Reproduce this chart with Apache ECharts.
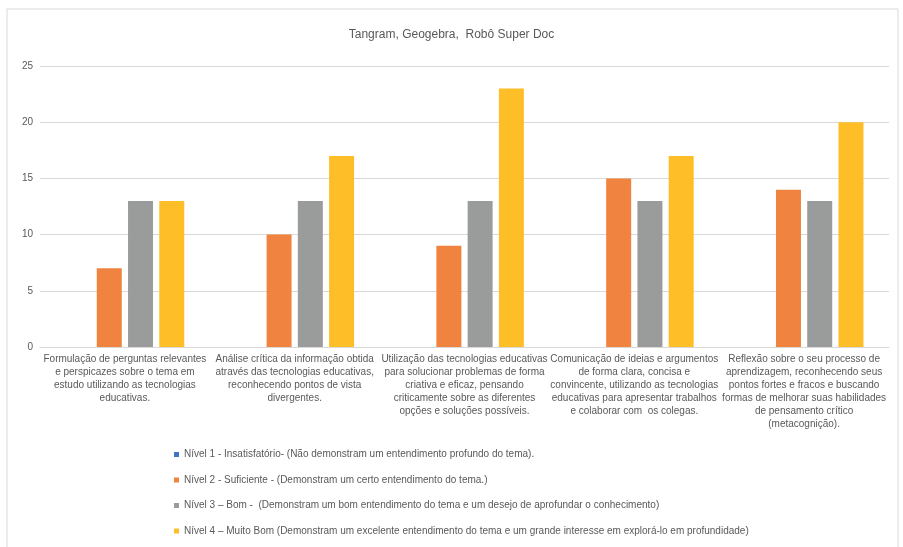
<!DOCTYPE html>
<html>
<head>
<meta charset="utf-8">
<script src="https://cdn.jsdelivr.net/npm/echarts@6/dist/echarts.min.js"></script>
<style>
  html, body { margin: 0; padding: 0; background: #fff; }
  #chart { width: 903px; height: 547px; }
</style>
</head>
<body>
<div id="chart"></div>
<script>
// categorias (eixo X), com as quebras de linha do original
const categories = [
  'Formulação de perguntas relevantes\ne perspicazes sobre o tema em\nestudo utilizando as tecnologias\neducativas.',
  'Análise crítica da informação obtida\natravés das tecnologias educativas,\nreconhecendo pontos de vista\ndivergentes.',
  'Utilização das tecnologias educativas\npara solucionar problemas de forma\ncriativa e eficaz, pensando\ncriticamente sobre as diferentes\nopções e soluções possíveis.',
  'Comunicação de ideias e argumentos\nde forma clara, concisa e\nconvincente, utilizando as tecnologias\neducativas para apresentar trabalhos\ne colaborar com  os colegas.',
  'Reflexão sobre o seu processo de\naprendizagem, reconhecendo seus\npontos fortes e fracos e buscando\nformas de melhorar suas habilidades\nde pensamento crítico\n(metacognição).'
];

const seriesNames = [
  'Nível 1 - Insatisfatório- (Não demonstram um entendimento profundo do tema).',
  'Nível 2 - Suficiente - (Demonstram um certo entendimento do tema.)',
  'Nível 3 – Bom -  (Demonstram um bom entendimento do tema e um desejo de aprofundar o conhecimento)',
  'Nível 4 – Muito Bom (Demonstram um excelente entendimento do tema e um grande interesse em explorá-lo em profundidade)'
];

const nivel1 = [0, 0, 0, 0, 0];
const nivel2 = [7, 10, 9, 15, 14];
const nivel3 = [13, 13, 13, 13, 13];
const nivel4 = [13, 17, 23, 17, 20];

const colors = ['#4472C4', '#F0833F', '#9A9C9C', '#FEBE28'];
const yTicks = { min: 0, max: 25, interval: 5 };

const chart = echarts.init(document.getElementById('chart'));
const textColor = '#595959';

const option = {
  animation: false,
  color: colors,
  graphic: [
    {
      type: 'rect',
      shape: { x: 7, y: 9, width: 891, height: 560 },
      style: { fill: 'none', stroke: '#d9d9d9', lineWidth: 1 },
      silent: true
    }
  ],
  title: {
    text: 'Tangram, Geogebra,  Robô Super Doc',
    left: 'center',
    top: 24,
    textStyle: { fontFamily: 'Liberation Sans', fontSize: 12, fontWeight: 'normal', color: textColor }
  },
  legend: {
    orient: 'vertical',
    left: 174,
    top: 449,
    padding: 0,
    itemWidth: 5,
    itemHeight: 5,
    itemGap: 14.5,
    icon: 'rect',
    selectedMode: false,
    textStyle: { fontFamily: 'Liberation Sans', fontSize: 10, lineHeight: 11, color: textColor },
    data: seriesNames
  },
  grid: { left: 40, right: 14, top: 66, bottom: 200, containLabel: false },
  xAxis: {
    type: 'category',
    data: categories,
    axisLine: { show: true, lineStyle: { color: '#d9d9d9', width: 1 } },
    axisTick: { show: false },
    axisLabel: {
      interval: 0,
      margin: 6,
      fontFamily: 'Liberation Sans',
      fontSize: 10,
      lineHeight: 13,
      color: textColor,
      align: 'center'
    }
  },
  yAxis: {
    type: 'value',
    min: yTicks.min,
    max: yTicks.max,
    interval: yTicks.interval,
    axisLine: { show: false },
    axisTick: { show: false },
    axisLabel: { fontFamily: 'Liberation Sans', fontSize: 10, color: textColor, margin: 7 },
    splitLine: { lineStyle: { color: '#d9d9d9', width: 1 } }
  },
  series: [nivel1, nivel2, nivel3, nivel4].map((d, i) => ({
    name: seriesNames[i],
    type: 'bar',
    data: d,
    barWidth: 25,
    barGap: '25%',
    itemStyle: { color: colors[i] }
  }))
};

chart.setOption(option);
</script>
</body>
</html>
